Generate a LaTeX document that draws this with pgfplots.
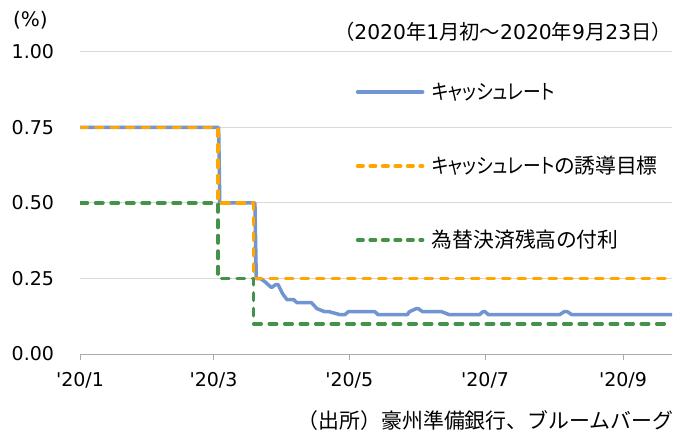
\documentclass[border=0pt]{standalone}
\usepackage{pgfplots}
\pgfplotsset{compat=1.18}
\usepackage{fontspec}
\setmainfont{DejaVu Sans}[Ligatures=TeXOff]
\newfontfamily\jp{Noto Sans CJK JP}
\newfontfamily\jpp{Noto Sans CJK JP}[RawFeature={+palt}]
\newfontfamily\kana{Noto Sans CJK JP}[RawFeature={+palt}, FakeStretch=0.85]
\definecolor{cblue}{RGB}{112,149,208}
\definecolor{corange}{RGB}{255,166,0}
\definecolor{cgreen}{RGB}{67,146,72}
\definecolor{gridgray}{RGB}{217,217,217}
\definecolor{axisgray}{RGB}{170,170,170}
\begin{document}
\begin{tikzpicture}
\begin{axis}[
  at={(0,0)}, anchor=south west,
  scale only axis, width=592bp, height=302bp,
  clip mode=individual,
  xmin=0, xmax=266, ymin=0, ymax=1,
  axis x line*=bottom, axis y line*=left,
  y axis line style={draw=none},
  x axis line style={draw=axisgray, line width=1bp},
  xtick={0,60,121,182,244},
  xticklabels={'20/1,'20/3,'20/5,'20/7,'20/9},
  ytick={0,0.25,0.5,0.75,1},
  yticklabels={0.00,0.25,0.50,0.75,1.00},
  tick label style={font=\fontsize{19bp}{22bp}\selectfont, text=black},
  ytick style={draw=none},
  xtick style={draw=axisgray, line width=1bp},
  tick align=outside, major tick length=6bp,
  ymajorgrids, grid style={draw=gridgray, line width=1bp},
  xticklabel style={yshift=-9bp},
  yticklabel style={xshift=-16.5bp},
  legend cell align=left,
  legend style={draw=none, fill=none, at={(0.466,0.9015)}, anchor=north west,
    inner sep=0pt, outer sep=0pt, row sep=53.5bp,
    /tikz/every odd column/.append style={column sep=7.5bp},
    font=\jpp\fontsize{20.8bp}{24bp}\selectfont,
    nodes={inner sep=0pt, outer sep=0pt, text height=18bp, text depth=2.5bp}},
  legend image code/.code={\draw[#1] (0bp,0bp) -- (65bp,0bp);},
  every axis plot/.append style={line width=3.5bp, line join=round},
]
\addplot[cblue, line cap=round] coordinates {
(0,0.75) (62.3,0.75) (62.8,0.50) (78.6,0.50) (79.2,0.25) (81,0.25) (83,0.24)
(86,0.22) (88,0.23) (89,0.23) (91,0.20) (93,0.18) (96,0.18) (97.5,0.17)
(104,0.17) (106.5,0.15) (110,0.14) (112,0.14) (117,0.13) (119,0.13)
(120.5,0.14) (132.5,0.14) (134,0.13) (147,0.13) (148,0.14) (151,0.15)
(152,0.15) (154,0.14) (162.5,0.14) (166,0.13) (179.5,0.13) (181,0.14)
(182,0.14) (183.5,0.13) (215.5,0.13) (217.5,0.14) (219,0.14) (221,0.13)
(266,0.13)};
\addlegendentry{{\kana キャッシュレート}}
\addplot[corange, line cap=round, dash pattern=on 7.5bp off 8bp,
  legend image post style={dash pattern=on 5.5bp off 7bp}] coordinates {
(0,0.75) (62,0.75) (62,0.50) (78,0.50) (78,0.25) (266,0.25)};
\addlegendentry{{\kana キャッシュレート}の誘導目標}
\addplot[cgreen, line cap=round, dash pattern=on 7.5bp off 8bp,
  legend image post style={dash pattern=on 5.5bp off 7bp}] coordinates {
(0,0.50) (62,0.50) (62,0.25) (78,0.25) (78,0.10) (266,0.10)};
\addlegendentry{為替決済残高の付利}
\node[anchor=west, inner sep=0pt, font=\fontsize{20bp}{24bp}\selectfont]
  at ([xshift=-67bp, yshift=32bp]rel axis cs:0,1) {(\%)};
\node[anchor=east, inner sep=0pt, font=\fontsize{20.3bp}{24bp}\selectfont]
  at ([xshift=0bp, yshift=20bp]rel axis cs:1,1)
  {{\jp （}2020{\jp 年}1{\jp 月初～}2020{\jp 年}9{\jp 月}23{\jp 日）}};
\node[anchor=east, inner sep=0pt, font=\jp\fontsize{20.9bp}{24bp}\selectfont]
  at ([xshift=1.5bp, yshift=-67bp]rel axis cs:1,0)
  {（出所）豪州準備銀行、ブルームバーグ};
\end{axis}
\pgfresetboundingbox
\useasboundingbox (-80bp,-82bp) rectangle (594bp,354bp);
\end{tikzpicture}
\end{document}
